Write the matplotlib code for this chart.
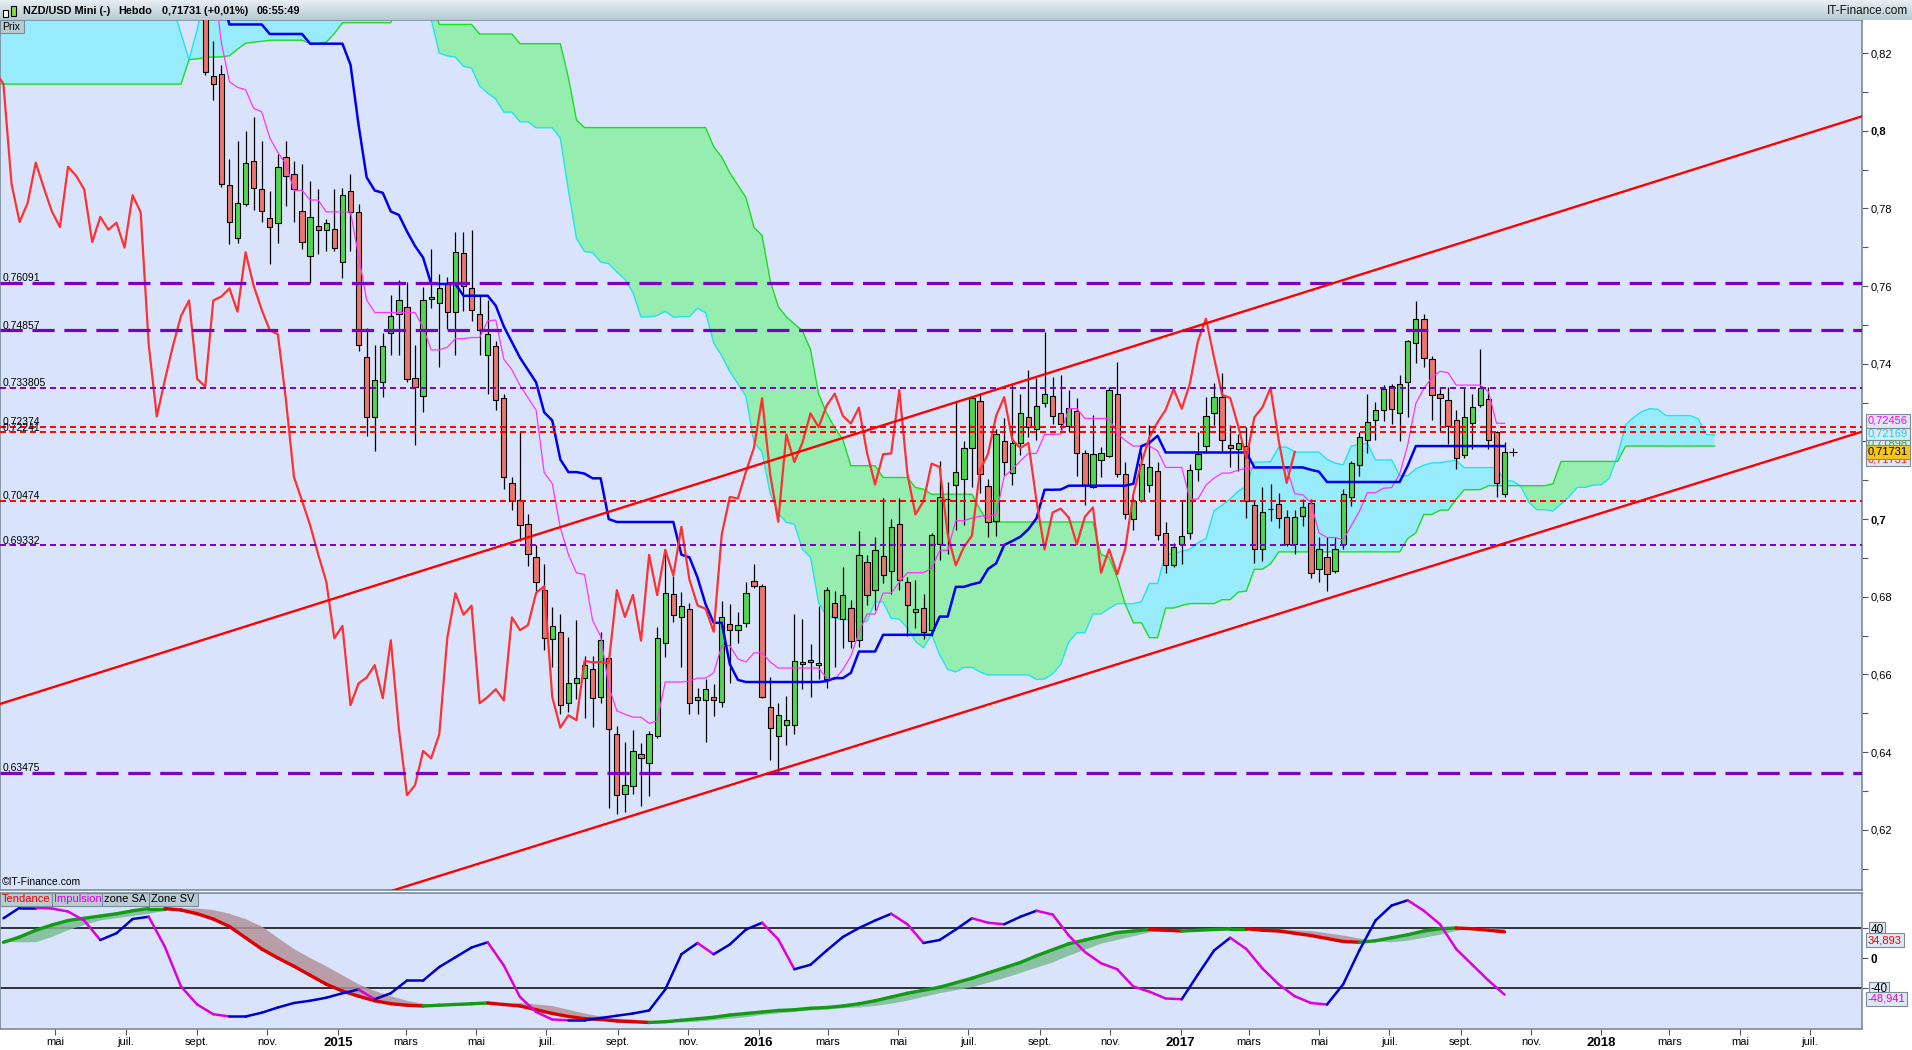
import numpy as np
import pandas as pd
import matplotlib
matplotlib.use("Agg")
import matplotlib.pyplot as plt
import matplotlib.dates as mdates
from matplotlib.collections import LineCollection
from matplotlib.patches import Rectangle
from matplotlib.colors import LinearSegmentedColormap
from matplotlib.transforms import blended_transform_factory

plt.rcParams['font.family'] = ['Liberation Sans', 'DejaVu Sans']
plt.rcParams['lines.scale_dashes'] = False

W, H = 1912, 1050

# weekly NZD/USD candles, 2014-09-08 .. 2017-10-09
opens = [0.8290, 0.8140, 0.8146, 0.7860, 0.7725, 0.7810, 0.7923, 0.7850, 0.7775, 0.7763,
         0.7931, 0.7888, 0.7794, 0.7678, 0.7755, 0.7745, 0.7747, 0.7662, 0.7845, 0.7791,
         0.7418, 0.7264, 0.7352, 0.7480, 0.7527, 0.7546, 0.7362, 0.7318, 0.7567, 0.7557,
         0.7604, 0.7532, 0.7685, 0.7594, 0.7527, 0.7422, 0.7446, 0.7311, 0.7094, 0.7048,
         0.6988, 0.6902, 0.6817, 0.6691, 0.6710, 0.6526, 0.6577, 0.6590, 0.6613, 0.6542,
         0.6642, 0.6446, 0.6291, 0.6312, 0.6394, 0.6373, 0.6441, 0.6681, 0.6807, 0.6748,
         0.6768, 0.6533, 0.6533, 0.6542, 0.6529, 0.6730, 0.6714, 0.6732, 0.6840, 0.6828,
         0.6516, 0.6441, 0.6470, 0.6471, 0.6626, 0.6637, 0.6625, 0.6589, 0.6785, 0.6742,
         0.6771, 0.6688, 0.6890, 0.6817, 0.6905, 0.6866, 0.6988, 0.6838, 0.6762, 0.6772,
         0.6715, 0.6937, 0.7053, 0.7087, 0.7102, 0.7182, 0.7304, 0.7085, 0.6995, 0.7200,
         0.7119, 0.7196, 0.7262, 0.7231, 0.7298, 0.7318, 0.7272, 0.7239, 0.7279, 0.7169,
         0.7083, 0.7153, 0.7163, 0.7321, 0.7116, 0.6999, 0.7048, 0.7089, 0.7124, 0.6963,
         0.6881, 0.6937, 0.6965, 0.7129, 0.7187, 0.7274, 0.7314, 0.7191, 0.7181, 0.7187,
         0.7036, 0.6922, 0.7027, 0.7039, 0.7006, 0.6937, 0.7007, 0.7041, 0.6871, 0.6903,
         0.6866, 0.6935, 0.7056, 0.7138, 0.7204, 0.7255, 0.7281, 0.7342, 0.7274, 0.7353,
         0.7454, 0.7514, 0.7413, 0.7323, 0.7307, 0.7255, 0.7165, 0.7247, 0.7295, 0.7310,
         0.7224, 0.7064]
highs = [0.8305, 0.8230, 0.8170, 0.7927, 0.7974, 0.7999, 0.8035, 0.7974, 0.7846, 0.7941,
         0.7974, 0.7923, 0.7914, 0.7871, 0.7849, 0.7772, 0.7849, 0.7853, 0.7888, 0.7810,
         0.7493, 0.7449, 0.7480, 0.7577, 0.7615, 0.7610, 0.7449, 0.7597, 0.7695, 0.7631,
         0.7624, 0.7739, 0.7739, 0.7745, 0.7577, 0.7563, 0.7459, 0.7321, 0.7108, 0.7226,
         0.7013, 0.6932, 0.6884, 0.6773, 0.6755, 0.6697, 0.6740, 0.6648, 0.6648, 0.6708,
         0.6644, 0.6467, 0.6427, 0.6457, 0.6424, 0.6454, 0.6721, 0.6921, 0.6853, 0.6813,
         0.6785, 0.6566, 0.6588, 0.6575, 0.6790, 0.6781, 0.6760, 0.6837, 0.6884, 0.6833,
         0.6594, 0.6527, 0.6545, 0.6755, 0.6742, 0.6678, 0.6777, 0.6824, 0.6816, 0.6876,
         0.6792, 0.6969, 0.6907, 0.6954, 0.7055, 0.7001, 0.7055, 0.6851, 0.6842, 0.6808,
         0.6963, 0.7149, 0.7096, 0.7302, 0.7201, 0.7315, 0.7325, 0.7104, 0.7231, 0.7259,
         0.7345, 0.7323, 0.7384, 0.7362, 0.7482, 0.7366, 0.7371, 0.7332, 0.7313, 0.7177,
         0.7268, 0.7186, 0.7339, 0.7405, 0.7146, 0.7057, 0.7173, 0.7242, 0.7147, 0.6993,
         0.6938, 0.7048, 0.7142, 0.7224, 0.7314, 0.7350, 0.7376, 0.7243, 0.7218, 0.7237,
         0.7047, 0.7082, 0.7090, 0.7067, 0.7023, 0.7023, 0.7051, 0.7051, 0.6953, 0.6953,
         0.6953, 0.7077, 0.7150, 0.7224, 0.7321, 0.7301, 0.7344, 0.7347, 0.7370, 0.7460,
         0.7561, 0.7527, 0.7419, 0.7340, 0.7340, 0.7280, 0.7338, 0.7321, 0.7437, 0.7340,
         0.7228, 0.7198]
lows = [0.8143, 0.8078, 0.7856, 0.7707, 0.7712, 0.7805, 0.7796, 0.7765, 0.7658, 0.7712,
        0.7806, 0.7765, 0.7695, 0.7608, 0.7683, 0.7691, 0.7691, 0.7620, 0.7691, 0.7433,
        0.7215, 0.7176, 0.7314, 0.7422, 0.7422, 0.7354, 0.7190, 0.7276, 0.7543, 0.7392,
        0.7489, 0.7422, 0.7536, 0.7509, 0.7422, 0.7321, 0.7280, 0.7078, 0.7024, 0.6943,
        0.6880, 0.6816, 0.6662, 0.6620, 0.6497, 0.6504, 0.6536, 0.6489, 0.6465, 0.6527,
        0.6255, 0.6240, 0.6245, 0.6293, 0.6260, 0.6287, 0.6437, 0.6644, 0.6736, 0.6620,
        0.6497, 0.6497, 0.6427, 0.6493, 0.6516, 0.6577, 0.6681, 0.6721, 0.6822, 0.6540,
        0.6381, 0.6349, 0.6418, 0.6447, 0.6562, 0.6542, 0.6588, 0.6564, 0.6620, 0.6669,
        0.6669, 0.6670, 0.6780, 0.6765, 0.6835, 0.6808, 0.6817, 0.6700, 0.6720, 0.6690,
        0.6700, 0.6894, 0.6911, 0.6971, 0.6984, 0.7083, 0.7066, 0.6954, 0.6956, 0.7113,
        0.7087, 0.7164, 0.7212, 0.7203, 0.7289, 0.7244, 0.7229, 0.7225, 0.7110, 0.7036,
        0.7079, 0.7109, 0.7160, 0.7109, 0.7000, 0.6971, 0.7044, 0.7070, 0.6947, 0.6861,
        0.6877, 0.6885, 0.6948, 0.7099, 0.7169, 0.7241, 0.7175, 0.7133, 0.7125, 0.7002,
        0.6888, 0.6892, 0.6996, 0.6976, 0.6931, 0.6909, 0.6983, 0.6849, 0.6839, 0.6815,
        0.6862, 0.6922, 0.7034, 0.7112, 0.7169, 0.7204, 0.7252, 0.7245, 0.7200, 0.7262,
        0.7402, 0.7391, 0.7254, 0.7228, 0.7193, 0.7129, 0.7156, 0.7181, 0.7288, 0.7181,
        0.7057, 0.7056]
closes = [0.8152, 0.8120, 0.7863, 0.7765, 0.7814, 0.7918, 0.7853, 0.7792, 0.7752, 0.7907,
          0.7884, 0.7849, 0.7713, 0.7778, 0.7745, 0.7763, 0.7699, 0.7834, 0.7790, 0.7449,
          0.7264, 0.7358, 0.7446, 0.7523, 0.7563, 0.7361, 0.7341, 0.7563, 0.7573, 0.7594,
          0.7534, 0.7687, 0.7601, 0.7539, 0.7486, 0.7476, 0.7307, 0.7108, 0.7047, 0.6984,
          0.6909, 0.6839, 0.6693, 0.6725, 0.6521, 0.6577, 0.6592, 0.6624, 0.6539, 0.6688,
          0.6459, 0.6289, 0.6315, 0.6403, 0.6384, 0.6446, 0.6695, 0.6809, 0.6754, 0.6777,
          0.6526, 0.6542, 0.6562, 0.6533, 0.6747, 0.6714, 0.6727, 0.6810, 0.6827, 0.6542,
          0.6463, 0.6495, 0.6482, 0.6635, 0.6631, 0.6632, 0.6629, 0.6817, 0.6748, 0.6805,
          0.6687, 0.6908, 0.6804, 0.6921, 0.6855, 0.6980, 0.6844, 0.6778, 0.6769, 0.6710,
          0.6960, 0.7057, 0.7053, 0.7122, 0.7184, 0.7311, 0.7115, 0.6993, 0.7218, 0.7147,
          0.7197, 0.7272, 0.7237, 0.7292, 0.7323, 0.7266, 0.7246, 0.7287, 0.7171, 0.7089,
          0.7167, 0.7169, 0.7332, 0.7117, 0.7012, 0.7046, 0.7143, 0.7134, 0.6960, 0.6881,
          0.6928, 0.6957, 0.7126, 0.7168, 0.7266, 0.7314, 0.7204, 0.7183, 0.7196, 0.7047,
          0.6922, 0.7017, 0.7027, 0.7004, 0.6935, 0.7006, 0.7030, 0.6862, 0.6922, 0.6858,
          0.6924, 0.7064, 0.7144, 0.7211, 0.7249, 0.7281, 0.7335, 0.7284, 0.7348, 0.7458,
          0.7516, 0.7416, 0.7320, 0.7312, 0.7239, 0.7156, 0.7262, 0.7288, 0.7338, 0.7204,
          0.7093, 0.71731]

# the 26 weeks before the first candle (from 2014-03-10), above the top of the chart
pre_highs = [0.8560, 0.8620, 0.8680, 0.8700, 0.8690, 0.8640, 0.8620, 0.8600, 0.8720, 0.8740,
             0.8650, 0.8580, 0.8520, 0.8640, 0.8700, 0.8780, 0.8800, 0.8830, 0.8840, 0.8732,
             0.8597, 0.8545, 0.8516, 0.8504, 0.8408, 0.8390]
pre_lows = [0.8420, 0.8480, 0.8540, 0.8580, 0.8540, 0.8510, 0.8480, 0.8460, 0.8560, 0.8590,
            0.8500, 0.8440, 0.8390, 0.8500, 0.8580, 0.8640, 0.8680, 0.8700, 0.8680, 0.8560,
            0.8460, 0.8420, 0.8400, 0.8390, 0.8300, 0.8280]

# cloud edges on the left part of the chart (weekly from 2014-03-10)
early_span_a = [0.840, 0.840, 0.840, 0.840, 0.840, 0.840, 0.840, 0.840, 0.840, 0.840,
                0.840, 0.840, 0.840, 0.840, 0.840, 0.840, 0.840, 0.840, 0.840, 0.840,
                0.840, 0.840, 0.832, 0.825, 0.8183, 0.826, 0.835, 0.840, 0.840, 0.840,
                0.840, 0.840, 0.840, 0.840, 0.840, 0.840, 0.840, 0.840, 0.840, 0.840,
                0.840, 0.840, 0.840, 0.840, 0.840, 0.840, 0.840, 0.840, 0.840, 0.840,
                0.840, 0.840]
early_span_b = [0.8120, 0.8120, 0.8120, 0.8120, 0.8120, 0.8120, 0.8120, 0.8120, 0.8120, 0.8120,
                0.8120, 0.8120, 0.8120, 0.8120, 0.8120, 0.8120, 0.8120, 0.8120, 0.8120, 0.8120,
                0.8120, 0.8120, 0.8120, 0.8120, 0.8183, 0.8185, 0.8188, 0.8190, 0.8190, 0.8193,
                0.8210, 0.8225, 0.8228, 0.8230, 0.8233, 0.8233, 0.8233, 0.8233, 0.8233, 0.8225,
                0.8225, 0.8228, 0.8250, 0.8278, 0.8278, 0.8278, 0.8278, 0.8278, 0.8278, 0.8278,
                0.8350, 0.8350, 0.8350, 0.8350]

# lower panel, one value every two weeks from 2014-03-17
impulsion = [53, 67, 67, 66, 62, 50, 24, 33, 52, 55, 15, -38, -62, -75, -78, -78, -73, -66,
             -60, -57, -53, -47, -42, -55, -47, -30, -30, -12, 1, 14, 21, -10, -52, -72, -82,
             -83, -83, -80, -77, -74, -70, -42, 5, 20, 5, 18, 38, 47, 25, -15, -9, 10, 28, 40,
             50, 59, 45, 20, 24, 38, 53, 47, 45, 55, 63, 58, 30, 8, -7, -15, -38, -45, -54, -55,
             -22, 10, 27, 12, -14, -35, -51, -60, -62, -35, 10, 50, 70, 77, 63, 45, 12, -9, -30,
             -48.941]
tendance = [21, 28, 37, 44, 50, 53, 56, 59, 63, 66, 66, 64, 59, 52, 42, 27, 12, 0, -11, -23,
            -35, -44, -51, -57, -61, -63, -64, -63, -62, -61, -60, -62, -64, -69, -74, -78, -81,
            -82, -84, -85, -86, -85, -83, -81, -79, -76, -74, -72, -70, -69, -67, -66, -64, -61,
            -57, -52, -47, -43, -39, -33, -27, -20, -13, -6, 3, 11, 19, 24, 29, 34, 36, 38, 37,
            36, 37, 38, 39, 39, 37, 36, 33, 30, 26, 22, 21, 23, 27, 31, 36, 39, 40, 39, 37,
            34.893]

levels_long = [0.76091, 0.74857, 0.63475]
levels_dot = [0.733805, 0.69332]
levels_red = [0.72374, 0.72241, 0.70474]

channel_dates = ["2014-03-14", "2018-08-15"]
channel_upper = [0.6524, 0.8037]
channel_lower = [0.5728, 0.7225]

month_names = {3: "mars", 5: "mai", 7: "juil.", 9: "sept.", 11: "nov."}


def fx(x):
    return x / W


def fy(y):
    return 1 - y / H


# ---- ichimoku lines from the weekly highs / lows ----
weeks = pd.date_range("2014-03-10", periods=len(pre_highs) + len(closes), freq="7D")
hi = pd.Series(pre_highs + highs)
lo = pd.Series(pre_lows + lows)
tenkan = (hi.rolling(9, min_periods=1).max() + lo.rolling(9, min_periods=1).min()) / 2
kijun = (hi.rolling(26, min_periods=1).max() + lo.rolling(26, min_periods=1).min()) / 2
mid52 = (hi.rolling(52, min_periods=1).max() + lo.rolling(52, min_periods=1).min()) / 2
span_a = np.r_[early_span_a, ((tenkan + kijun) / 2).values[len(early_span_a) - 26:]]
span_b = np.r_[early_span_b, mid52.values[len(early_span_b) - 26:]]

wx = mdates.date2num(weeks.to_pydatetime())
cx = wx[len(pre_highs):]
kx = mdates.date2num(pd.date_range("2014-03-10", periods=len(span_a), freq="7D").to_pydatetime())

fig = plt.figure(figsize=(W / 100, H / 100), dpi=100, facecolor="white")
ax = fig.add_axes([0, fy(890), fx(1862), (890 - 20) / H])
ax2 = fig.add_axes([0, fy(1029), fx(1862), (1029 - 893) / H], sharex=ax)
bg = "#d9e4fc"
frame = "#7a8c99"
for a in (ax, ax2):
    a.set_facecolor(bg)
    for s in a.spines.values():
        s.set_color(frame)
        s.set_linewidth(1.2)

# cloud
ax.fill_between(kx, span_a, span_b, where=span_a >= span_b, interpolate=True, color="#97ebfb", lw=0, zorder=1)
ax.fill_between(kx, span_a, span_b, where=span_b > span_a, interpolate=True, color="#95edb0", lw=0, zorder=1)
ax.plot(kx, span_a, color="#22e3ef", lw=1.0, zorder=2)
ax.plot(kx, span_b, color="#1edc1e", lw=1.0, zorder=2)

# candles
o, h, l, c = map(np.array, (opens, highs, lows, closes))
up = c >= o
ax.vlines(cx, l, h, color="black", lw=0.9, zorder=3)
ax.bar(cx[up], c[up] - o[up], bottom=o[up], width=4.6, color="#4fd84f",
       edgecolor="black", linewidth=0.8, zorder=4)
ax.bar(cx[~up], o[~up] - c[~up], bottom=c[~up], width=4.6, color="#ec756d",
       edgecolor="black", linewidth=0.8, zorder=4)
ax.plot(cx[-1] + 7, closes[-1], marker="+", color="black", ms=6, mew=0.8, zorder=4)

# tenkan, kijun, chikou
ax.plot(wx, tenkan, color="#ff33ff", lw=0.9, zorder=5)
ax.plot(wx, kijun, color="#0000ee", lw=1.8, zorder=5)
ax.plot(wx[:len(closes)], closes, color="#ff3030", lw=1.6, zorder=6)

# horizontal levels
lab_tr = blended_transform_factory(ax.transAxes, ax.transData)
for v in levels_long:
    ax.axhline(v, color="#7b00c4", lw=2.3, dashes=(16, 7), zorder=7)
for v in levels_dot:
    ax.axhline(v, color="#7b00c4", lw=1.4, dashes=(4.3, 2.9), zorder=7)
for v in levels_red:
    ax.axhline(v, color="#ff0000", lw=1.4, dashes=(4.3, 2.9), zorder=7)
for v in levels_long + levels_dot + levels_red:
    ax.text(0.0012, v, str(v).replace(".", ","), transform=lab_tr, fontsize=7.5,
            va="bottom", ha="left", zorder=8)

# channel
chx = mdates.date2num(pd.to_datetime(channel_dates).to_pydatetime())
ax.plot(chx, channel_upper, color="#ff0000", lw=1.7, zorder=7)
ax.plot(chx, channel_lower, color="#ff0000", lw=1.7, zorder=7)

ax.set_xlim(chx[0], chx[1])
ax.set_ylim(0.6045, 0.8285)

# right price axis
major = np.round(np.arange(0.62, 0.83, 0.02), 2)
minor = np.round(np.arange(0.61, 0.82, 0.02), 2)
ax.yaxis.tick_right()
ax.set_yticks(major)
ax.set_yticks(minor, minor=True)
ax.set_yticklabels([("%g" % v).replace(".", ",") for v in major])
for t, v in zip(ax.get_yticklabels(), major):
    if abs(v * 10 - round(v * 10)) < 1e-9:
        t.set_fontweight("bold")
ax.tick_params(axis="y", which="both", length=4, width=0.8, color="#556", labelsize=8, pad=2)
ax.tick_params(axis="x", which="both", bottom=False, labelbottom=False)


def tag(axis, value, text, color, dy, face="#dfe7f2"):
    axis.annotate(text, xy=(1, value), xycoords=("axes fraction", "data"),
                  xytext=(4, dy), textcoords="offset points", va="center", ha="left",
                  fontsize=8, color=color, annotation_clip=False,
                  bbox=dict(boxstyle="square,pad=0.18", fc=face, ec="#7a8c99", lw=0.8))


tag(ax, 0.71731, "0,71731", "#ff2020", -5.5)
tag(ax, 0.71898, "0,71898", "#10c010", 1.5)
tag(ax, 0.72169, "0,72169", "#10d8e8", 1.2)
tag(ax, 0.72456, "0,72456", "#ff00ff", 2.2)
tag(ax, 0.71731, "0,71731", "black", 0, face="#f7c515")

# lower panel
ix = mdates.date2num(pd.date_range("2014-03-17", periods=len(impulsion), freq="14D").to_pydatetime())
tr = np.array(tendance, dtype=float)
im = np.array(impulsion, dtype=float)
lag = pd.Series(tr).shift(2).bfill().values
ax2.axhline(40, color="black", lw=1.1, zorder=1)
ax2.axhline(-40, color="black", lw=1.1, zorder=1)
ax2.fill_between(ix, tr, lag, where=tr >= lag, interpolate=True, color="#7dbb93", alpha=0.85, lw=0, zorder=2)
ax2.fill_between(ix, tr, lag, where=tr < lag, interpolate=True, color="#b3929a", alpha=0.85, lw=0, zorder=2)


def slope_line(axis, x, y, up_col, down_col, lw, z):
    pts = np.column_stack([x, y])
    segs = np.stack([pts[:-1], pts[1:]], axis=1)
    cols = np.where(np.diff(y) >= 0, up_col, down_col)
    axis.add_collection(LineCollection(segs, colors=list(cols), linewidths=lw,
                                       capstyle="round", zorder=z))


slope_line(ax2, ix, tr, "#159a15", "#dd0000", 2.4, 3)
slope_line(ax2, ix, im, "#0000cc", "#dd00dd", 1.8, 4)
ax2.set_ylim(-94.7, 86.7)
ax2.yaxis.tick_right()
ax2.set_yticks([40, 0, -40])
ax2.set_yticklabels(["40", "0", "-40"])
ax2.tick_params(axis="y", length=4, width=0.8, color="#556", labelsize=8.5, pad=2)
for t in ax2.get_yticklabels():
    if t.get_text() == "0":
        t.set_fontweight("bold")
    else:
        t.set_bbox(dict(boxstyle="square,pad=0.15", fc="#dfe7f2", ec="#7a8c99", lw=0.8))
tag(ax2, 34.893, "34,893", "#ee0000", -6)
tag(ax2, -48.941, "-48,941", "#dd00dd", -3)

# date axis
ticks = pd.date_range("2014-03-01", "2018-08-01", freq="2MS")
ax2.set_xticks(mdates.date2num(ticks.to_pydatetime()))
ax2.set_xticklabels([str(d.year) if d.month == 1 else month_names[d.month] for d in ticks])
ax2.tick_params(axis="x", length=4, width=0.8, color="#556", labelsize=8, pad=2)
for t, d in zip(ax2.get_xticklabels(), ticks):
    if d.month == 1:
        t.set_fontweight("bold")
        t.set_fontsize(9.5)
ax2.set_xlim(chx[0], chx[1])

# header bar
hd = fig.add_axes([0, fy(20), 1, 20 / H])
grad = np.linspace(0, 1, 50).reshape(-1, 1)
hd.imshow(grad, aspect="auto", extent=[0, 1, 0, 1],
          cmap=LinearSegmentedColormap.from_list("hd", ["#e8eff3", "#b6cad3"]))
hd.axis("off")
fig.add_artist(Rectangle((fx(3), fy(17)), fx(5), 7 / H, transform=fig.transFigure,
                         fc="white", ec="black", lw=0.8))
fig.add_artist(Rectangle((fx(11), fy(16)), fx(5), 10 / H, transform=fig.transFigure,
                         fc="#7ee03a", ec="black", lw=0.8))
for x, s in [(23, "NZD/USD Mini (-)"), (118, "Hebdo"), (162, "0,71731 (+0,01%)"), (257, "06:55:49")]:
    fig.text(fx(x), fy(11), s, fontsize=7.8, fontweight="bold", va="center", ha="left")
fig.text(fx(1908), fy(11), "IT-Finance.com", fontsize=8.5, va="center", ha="right", color="#111")

# small labels
fig.add_artist(Rectangle((0, fy(33)), fx(24), 13 / H, transform=fig.transFigure,
                         fc="#b9cad3", ec="#7a8c99", lw=0.8))
fig.text(fx(2), fy(27), "Prix", fontsize=7.5, va="center", ha="left")
fig.text(fx(2), fy(882), "\u00a9IT-Finance.com", fontsize=7.5, va="center", ha="left")
x0 = 0
for s, col, w in [("Tendance", "#ee0000", 52), ("Impulsion", "#dd00dd", 50),
                  ("zone SA", "black", 47), ("Zone SV", "black", 49)]:
    fig.add_artist(Rectangle((fx(x0), fy(906)), fx(w), 13 / H, transform=fig.transFigure,
                             fc="#b9cad3", ec="#7a8c99", lw=0.8))
    fig.text(fx(x0 + 2), fy(899.5), s, fontsize=8, color=col, va="center", ha="left")
    x0 += w

fig.savefig("out.png", dpi=100, facecolor="white")
